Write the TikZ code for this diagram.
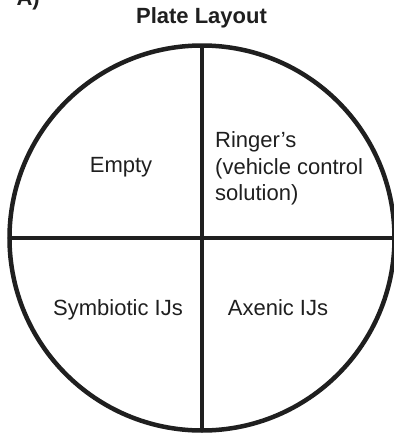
\documentclass[tikz,border=0pt]{standalone}
\usepackage{fontspec}
\setmainfont{Liberation Sans}
\begin{document}
\begin{tikzpicture}[x=1pt,y=1pt,
  lbl/.style={inner sep=0pt,font=\fontsize{22}{26.5}\selectfont,text=black!88},
  ttl/.style={inner sep=0pt,font=\fontsize{22}{26.5}\selectfont\bfseries,text=black!88},
  plate/.style={line width=4.5pt,draw=black!88}]
\useasboundingbox (0,0) rectangle (394,-437);
\node[ttl,anchor=base east] (tag) at (40,-5.5) {A)};
\node[ttl,anchor=base] (title) at (201.5,-23) {Plate Layout};
\coordinate (c) at (202,-238);
\draw[plate] (c) circle (192.5);
\coordinate (top) at (202,-45.5);
\coordinate (bot) at (202,-430.5);
\coordinate (lft) at (9.5,-238);
\coordinate (rgt) at (394.5,-238);
\draw[plate] (top) -- (bot);
\draw[plate] (lft) -- (rgt);
\node[lbl,anchor=base] (empty) at (121,-172) {Empty};
\node[lbl,anchor=base west,align=left] (ringer) at (215,-200.5) {Ringer’s\\(vehicle control\\solution)};
\node[lbl,anchor=base] (sym) at (118,-315) {Symbiotic IJs};
\node[lbl,anchor=base] (axe) at (278,-315) {Axenic IJs};
\end{tikzpicture}
\end{document}
